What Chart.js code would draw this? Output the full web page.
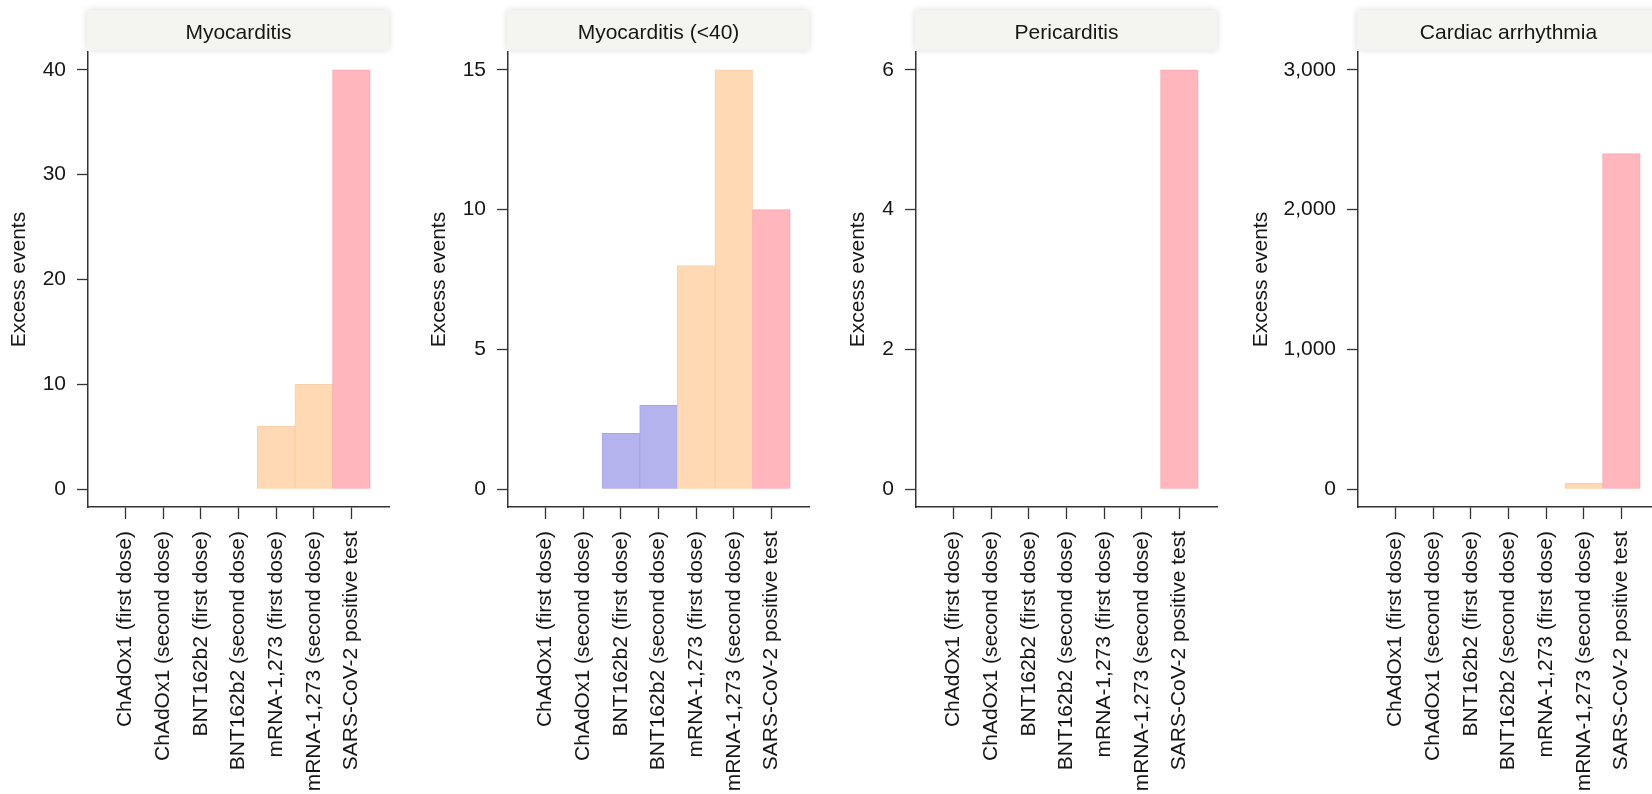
<!DOCTYPE html>
<html>
<head>
<meta charset="utf-8">
<script src="https://cdn.jsdelivr.net/npm/chart.js@4.4.1/dist/chart.umd.min.js"></script>
<style>
html,body{margin:0;padding:0;background:#fff;overflow:hidden;width:1652px;height:794px;position:relative;}
canvas{position:absolute;top:0;}
</style>
</head>
<body>
<canvas id="c0"></canvas>
<canvas id="c1"></canvas>
<canvas id="c2"></canvas>
<canvas id="c3"></canvas>
<script>
// ---- data ----
const categories = [
  "ChAdOx1 (first dose)",
  "ChAdOx1 (second dose)",
  "BNT162b2 (first dose)",
  "BNT162b2 (second dose)",
  "mRNA-1,273 (first dose)",
  "mRNA-1,273 (second dose)",
  "SARS-CoV-2 positive test"
];
const panelTitles = ["Myocarditis", "Myocarditis (<40)", "Pericarditis", "Cardiac arrhythmia"];
const myocarditis        = [0, 0, 0, 0, 6, 10, 40];
const myocarditisUnder40 = [0, 0, 2, 3, 8, 15, 10];
const pericarditis       = [0, 0, 0, 0, 0, 0, 6];
const arrhythmia         = [0, 0, 0, 0, 0, 45, 2400];
const ticksMyocarditis        = [0, 10, 20, 30, 40];
const ticksMyocarditisUnder40 = [0, 5, 10, 15];
const ticksPericarditis       = [0, 2, 4, 6];
const ticksArrhythmia         = [0, 1000, 2000, 3000];
const yAxisTitle = "Excess events";

// ---- styles ----
const barFill   = ["#b9e3cc", "#b9e3cc", "#b5b3ee", "#b5b3ee", "#fed9b3", "#fed9b3", "#ffb6bd"];
const barBorder = ["#a9d6bd", "#a9d6bd", "#a8a5e6", "#a8a5e6", "#f8cfa6", "#f8cfa6", "#f9a8b1"];
const FONT = '"Liberation Sans", Arial, Helvetica, sans-serif';
const FS = 21;
const TEXT = "#161616";
const AXIS = "#333333";
const PLOT_TOP = 52, PLOT_BOTTOM = 507, PLOT_W = 301, PAD_R = 60, YW = 120;
const PAD_FRAC = 0.0422;
const axisX  = [88, 508, 916, 1358];
const titleX = [19.2, 439, 858.3, 1261];

Chart.defaults.font.family = FONT;
Chart.defaults.font.size = FS;
Chart.defaults.color = TEXT;

const stripPlugin = {
  id: "strip",
  beforeDraw(chart, args, opts) {
    const {ctx, chartArea} = chart;
    ctx.save();
    ctx.shadowColor = "rgba(0,0,0,0.14)";
    ctx.shadowBlur = 7;
    ctx.fillStyle = "#f4f4f0";
    ctx.fillRect(chartArea.left - 1, 10, chartArea.right - chartArea.left + 1, 40);
    ctx.restore();
    ctx.save();
    ctx.fillStyle = TEXT;
    ctx.font = FS + "px " + FONT;
    ctx.textAlign = "center";
    ctx.textBaseline = "alphabetic";
    ctx.fillText(opts.text, (chartArea.left + chartArea.right) / 2, 38.5);
    ctx.restore();
  }
};

const panelValues = [myocarditis, myocarditisUnder40, pericarditis, arrhythmia];
const panelTicks  = [ticksMyocarditis, ticksMyocarditisUnder40, ticksPericarditis, ticksArrhythmia];
const xLabels = [""].concat(categories, [" "]);

panelValues.forEach((vals, i) => {
  const canvas = document.getElementById("c" + i);
  const L = axisX[i] - YW;
  canvas.width = YW + PLOT_W + PAD_R;
  canvas.height = 794;
  canvas.style.left = L + "px";
  const tks = panelTicks[i];
  const top = tks[tks.length - 1];
  const titlePad = titleX[i] - L - (FS * 1.2) / 2;
  new Chart(canvas, {
    type: "bar",
    data: {
      datasets: [{
        data: vals.map((v, k) => ({x: categories[k], y: v})),
        backgroundColor: barFill,
        borderColor: barBorder,
        borderWidth: 1,
        barPercentage: 1,
        categoryPercentage: 1
      }]
    },
    options: {
      responsive: false,
      animation: false,
      devicePixelRatio: 1,
      layout: {padding: {left: 0, top: PLOT_TOP, right: PAD_R, bottom: 0}},
      plugins: {
        legend: {display: false},
        tooltip: {enabled: false},
        strip: {text: panelTitles[i]}
      },
      scales: {
        x: {
          type: "category",
          labels: xLabels,
          offset: false,
          afterFit: ax => { ax.height = 794 - PLOT_BOTTOM; },
          ticks: {autoSkip: false, minRotation: 90, maxRotation: 90, padding: 12, color: TEXT, font: {size: FS}},
          grid: {
            offset: false,
            drawOnChartArea: false,
            drawTicks: true,
            tickLength: 12,
            tickWidth: 1.3,
            tickColor: ctx => (ctx.index === 0 || ctx.index === xLabels.length - 1) ? "rgba(0,0,0,0)" : AXIS
          },
          border: {display: true, color: AXIS, width: 1.5}
        },
        y: {
          type: "linear",
          min: -PAD_FRAC * top,
          max: top * (1 + PAD_FRAC),
          afterBuildTicks: ax => { ax.ticks = tks.map(v => ({value: v})); },
          afterFit: ax => { ax.width = YW; },
          ticks: {padding: 11, color: TEXT, font: {size: FS}, callback: v => Number(v).toLocaleString("en-US")},
          grid: {drawOnChartArea: false, drawTicks: true, tickLength: 11, tickWidth: 1.3, tickColor: AXIS},
          border: {display: true, color: AXIS, width: 1.5},
          title: {display: true, text: yAxisTitle, color: TEXT, font: {size: FS}, padding: {top: titlePad, bottom: 0}}
        }
      }
    },
    plugins: [stripPlugin]
  });
});
</script>
</body>
</html>
